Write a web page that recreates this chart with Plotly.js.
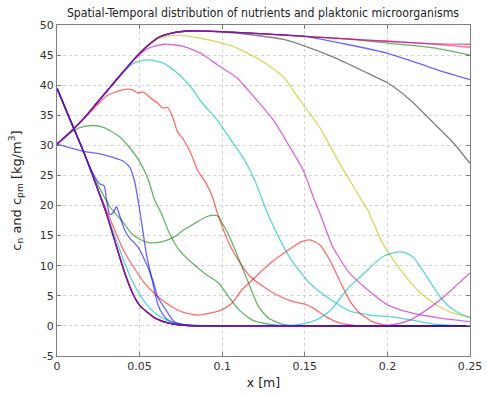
<!DOCTYPE html>
<html>
<head>
<meta charset="utf-8">
<script src="https://cdn.plot.ly/plotly-3.0.1.min.js"></script>
<style>html,body{margin:0;padding:0;background:#fff;}#chart{width:487px;height:397px;}</style>
</head>
<body>
<div id="chart"></div>
<script>
// ---- axis ticks ----
const xTickVals = [0, 0.05, 0.1, 0.15, 0.2, 0.25];
const xTickText = ['0', '0.05', '0.1', '0.15', '0.2', '0.25'];
const yTickVals = [-5, 0, 5, 10, 15, 20, 25, 30, 35, 40, 45, 50];
const yTickText = ['-5', '0', '5', '10', '15', '20', '25', '30', '35', '40', '45', '50'];

// ---- shared rising profile (curves starting at 30) ----
const riseX = [0, 0.008, 0.016, 0.024, 0.032, 0.04, 0.048, 0.055, 0.062, 0.07, 0.08, 0.1, 0.12, 0.15, 0.175, 0.2, 0.225, 0.25];
const riseY = [30.2, 32.2, 34.4, 37.0, 39.6, 42.2, 44.7, 46.6, 48.0, 48.7, 49.0, 48.9, 48.6, 48.1, 47.7, 47.3, 46.9, 46.6];

// ---- shared falling profile (curves starting at 39.5) ----
const fallX = [0, 0.008, 0.016, 0.024, 0.03, 0.036, 0.041, 0.046, 0.05, 0.055, 0.06, 0.067, 0.075, 0.085, 0.25];
const fallY = [39.5, 34.2, 29.0, 23.2, 18.6, 13.2, 8.8, 5.3, 3.4, 2.2, 1.2, 0.5, 0.15, 0, 0];

// ---- curves starting at 30 ----
const aBlueX = [0, 0.008, 0.018, 0.026, 0.034, 0.04, 0.044, 0.047, 0.051, 0.054, 0.058, 0.061, 0.064, 0.067, 0.072, 0.078, 0.09, 0.25];
const aBlueY = [30.2, 29.6, 28.9, 28.6, 28.0, 27.4, 26.4, 24.0, 17.6, 12.1, 7.1, 3.6, 1.9, 1.0, 0.4, 0.15, 0, 0];
const aGreenX = [0, 0.006, 0.011, 0.016, 0.022, 0.028, 0.033, 0.038, 0.044, 0.05, 0.055, 0.059, 0.063, 0.068, 0.074, 0.082, 0.09, 0.098, 0.104, 0.11, 0.118, 0.13, 0.14, 0.25];
const aGreenY = [30.2, 31.6, 32.6, 33.1, 33.3, 33.0, 32.3, 31.4, 29.6, 27.3, 24.5, 21.0, 18.8, 15.4, 12.6, 10.4, 8.6, 7.1, 4.8, 2.7, 1.0, 0.2, 0, 0];
const aRedX = [0.024, 0.03, 0.038, 0.045, 0.049, 0.052, 0.055, 0.058, 0.061, 0.064, 0.067, 0.07, 0.073, 0.076, 0.081, 0.085, 0.09, 0.094, 0.097, 0.1, 0.105, 0.111, 0.117, 0.125, 0.132, 0.142, 0.15, 0.155, 0.163, 0.171, 0.18, 0.19, 0.25];
const aRedY = [36.6, 38.2, 39.1, 39.3, 38.7, 38.9, 38.3, 37.6, 37.0, 36.2, 36.3, 34.7, 32.2, 31.2, 28.7, 25.9, 23.8, 21.5, 18.8, 16.5, 13.2, 10.4, 8.2, 6.5, 5.3, 4.1, 3.6, 3.0, 1.5, 0.5, 0.1, 0, 0];
const aCyanX = [0.04, 0.045, 0.05, 0.056, 0.064, 0.073, 0.081, 0.088, 0.097, 0.105, 0.113, 0.12, 0.127, 0.135, 0.143, 0.153, 0.165, 0.177, 0.19, 0.203, 0.214, 0.228, 0.24, 0.25];
const aCyanY = [42.0, 43.4, 44.0, 44.2, 43.7, 42.0, 39.7, 37.0, 34.2, 31.0, 27.8, 24.0, 19.0, 14.3, 10.5, 7.1, 4.5, 2.5, 1.8, 1.5, 1.0, 0.3, 0.1, 0.05];
const aMagentaX = [0.048, 0.055, 0.065, 0.076, 0.087, 0.097, 0.109, 0.121, 0.131, 0.141, 0.149, 0.155, 0.159, 0.167, 0.177, 0.188, 0.2, 0.214, 0.232, 0.25];
const aMagentaY = [44.6, 46.1, 46.8, 46.5, 45.3, 43.4, 41.2, 37.5, 34.2, 29.7, 25.9, 21.5, 18.8, 13.1, 8.8, 6.0, 3.5, 2.2, 1.3, 0.7];
const aYellowX = [0.055, 0.062, 0.068, 0.078, 0.087, 0.097, 0.107, 0.123, 0.137, 0.147, 0.159, 0.171, 0.177, 0.183, 0.188, 0.197, 0.208, 0.218, 0.228, 0.238, 0.25];
const aYellowY = [46.5, 47.8, 48.2, 48.2, 47.8, 47.2, 46.4, 44.2, 41.4, 37.5, 33.0, 27.0, 24.3, 21.5, 19.3, 13.8, 9.3, 6.0, 3.8, 2.3, 1.5];
const aBlackX = [0.1, 0.12, 0.137, 0.147, 0.167, 0.188, 0.2, 0.214, 0.228, 0.24, 0.25];
const aBlackY = [48.8, 48.3, 47.6, 46.8, 44.7, 42.0, 40.4, 37.5, 33.7, 30.4, 27.0];
const aBlue2X = [0.175, 0.2, 0.218, 0.234, 0.25];
const aBlue2Y = [46.8, 45.3, 43.7, 42.2, 40.9];
const aGreen2X = [0.2, 0.228, 0.25];
const aGreen2Y = [47.0, 46.2, 45.0];
const aRed2X = [0.25];
const aRed2Y = [46.3];
const aMagenta2X = [0.25];
const aMagenta2Y = [46.8];

// ---- curves starting at 39.5 ----
const bBlueX = [0.022, 0.026, 0.0285, 0.030, 0.032, 0.034, 0.036, 0.038, 0.041, 0.044, 0.049, 0.053, 0.058, 0.061, 0.067, 0.071, 0.08, 0.09, 0.25];
const bBlueY = [25.2, 23.6, 23.3, 21.0, 18.5, 18.8, 19.8, 18.3, 15.9, 14.6, 13.1, 11.0, 7.6, 4.8, 2.2, 0.7, 0.1, 0, 0];
const bGreenX = [0.022, 0.026, 0.032, 0.04, 0.045, 0.05, 0.056, 0.064, 0.071, 0.076, 0.082, 0.09, 0.095, 0.098, 0.1, 0.103, 0.106, 0.112, 0.116, 0.122, 0.128, 0.136, 0.145, 0.25];
const bGreenY = [25.0, 22.8, 19.8, 17.2, 15.4, 14.4, 13.8, 14.0, 14.8, 15.8, 16.8, 18.1, 18.4, 18.1, 17.1, 15.6, 13.8, 9.8, 7.1, 3.2, 1.3, 0.3, 0, 0];
const bRedX = [0.03, 0.036, 0.041, 0.047, 0.053, 0.059, 0.065, 0.07, 0.076, 0.085, 0.094, 0.1, 0.106, 0.112, 0.12, 0.13, 0.14, 0.148, 0.153, 0.159, 0.165, 0.171, 0.177, 0.183, 0.191, 0.2, 0.25];
const bRedY = [19.2, 15.2, 12.2, 9.5, 7.1, 5.4, 4.0, 3.1, 2.3, 1.8, 2.2, 2.7, 3.8, 6.0, 8.1, 10.6, 12.6, 14.0, 14.3, 13.5, 11.0, 7.6, 4.3, 2.2, 0.7, 0.1, 0];
const bCyanX = [0.036, 0.041, 0.046, 0.051, 0.056, 0.061, 0.066, 0.071, 0.08, 0.09, 0.14, 0.15, 0.157, 0.163, 0.167, 0.172, 0.177, 0.183, 0.188, 0.193, 0.197, 0.203, 0.208, 0.212, 0.216, 0.22, 0.224, 0.228, 0.232, 0.236, 0.24, 0.245, 0.25];
const bCyanY = [14.2, 10.4, 7.2, 4.8, 3.0, 1.8, 1.0, 0.5, 0.15, 0.05, 0.05, 0.4, 1.0, 2.0, 3.0, 4.8, 6.5, 8.0, 9.3, 10.6, 11.5, 12.1, 12.3, 12.0, 11.3, 9.8, 8.1, 6.4, 4.8, 3.6, 2.7, 1.9, 1.3];
const bMagentaX = [0.195, 0.2, 0.207, 0.214, 0.219, 0.224, 0.229, 0.234, 0.242, 0.25];
const bMagentaY = [0, 0.1, 0.4, 1.0, 1.8, 2.7, 3.7, 4.8, 6.8, 8.8];
const bEmptyX = [];
const bEmptyY = [];

// ---- colours ----
const cBlue = 'rgba(0,0,255,0.6)';
const cGreen = 'rgba(0,128,0,0.6)';
const cRed = 'rgba(255,0,0,0.58)';
const cCyan = 'rgba(0,191,191,0.65)';
const cMagenta = 'rgba(191,0,191,0.6)';
const cYellow = 'rgba(191,191,0,0.62)';
const cBlack = 'rgba(0,0,0,0.5)';
const cFaint = (c) => c.replace(/[\d.]+\)$/, '0.3)');

// join shared profile (points left of the curve's own first x) with the curve's own points
function join(baseX, baseY, ownX, ownY) {
  const x = [], y = [];
  const start = ownX.length ? ownX[0] : Infinity;
  for (let i = 0; i < baseX.length; i++) {
    if (baseX[i] < start) { x.push(baseX[i]); y.push(baseY[i]); }
  }
  return { x: x.concat(ownX), y: y.concat(ownY) };
}

// drawing order: later entries are drawn on top
const curves = [
  [aBlueX, aBlueY, null, cBlue],
  [aGreenX, aGreenY, null, cGreen],
  [aBlackX, aBlackY, 'rise', cBlack],
  [aYellowX, aYellowY, 'rise', cYellow],
  [aRedX, aRedY, 'rise', cRed],
  [aCyanX, aCyanY, 'rise', cCyan],
  [aGreen2X, aGreen2Y, 'rise', cGreen],
  [aRed2X, aRed2Y, 'rise', cRed],
  [aMagentaX, aMagentaY, 'rise', cMagenta],
  [aBlue2X, aBlue2Y, 'rise', cBlue],
  [aMagenta2X, aMagenta2Y, 'rise', cMagenta],
  [bEmptyX, bEmptyY, 'fall', cFaint(cYellow)],
  [bEmptyX, bEmptyY, 'fall', cFaint(cBlack)],
  [bEmptyX, bEmptyY, 'fall', cGreen],
  [bEmptyX, bEmptyY, 'fall', cRed],
  [bGreenX, bGreenY, 'fall', cGreen],
  [bRedX, bRedY, 'fall', cRed],
  [bCyanX, bCyanY, 'fall', cCyan],
  [bEmptyX, bEmptyY, 'fall', cBlue],
  [bBlueX, bBlueY, 'fall', cBlue],
  [bMagentaX, bMagentaY, 'fall', cMagenta]
];

const traces = curves.map(([ox, oy, base, col]) => {
  let d = { x: ox, y: oy };
  if (base === 'rise') d = join(riseX, riseY, ox, oy);
  if (base === 'fall') d = join(fallX, fallY, ox, oy);
  return {
    type: 'scatter', mode: 'lines', x: d.x, y: d.y,
    line: { color: col, width: 1.3, shape: 'spline', smoothing: 0.6 },
    hoverinfo: 'skip', showlegend: false
  };
});

const font = { family: 'DejaVu Sans, Verdana, sans-serif', size: 11, color: '#333' };
const titleFont = { family: 'DejaVu Sans, Verdana, sans-serif', size: 12.5, color: '#222' };

const axisCommon = {
  showline: true, mirror: 'ticks', linecolor: '#7f7f7f', linewidth: 1,
  ticks: 'inside', ticklen: 4, tickcolor: '#7f7f7f', tickwidth: 1,
  showgrid: true, gridcolor: '#d2d2d2', griddash: 'dot', gridwidth: 1,
  zeroline: false, tickfont: font
};

const layout = {
  width: 487, height: 397,
  margin: { l: 57, r: 17, t: 25, b: 41, pad: 0 },
  paper_bgcolor: '#fff', plot_bgcolor: '#fff',
  font: font,
  title: {
    text: 'Spatial-Temporal distribution of nutrients and plaktonic microorganisms',
    font: { family: 'DejaVu Sans Condensed, DejaVu Sans, sans-serif', size: 12.2, color: '#222' },
    x: 0.54, xanchor: 'center', y: 0.967, yanchor: 'middle', yref: 'container'
  },
  xaxis: Object.assign({}, axisCommon, {
    range: [0, 0.25], tickvals: xTickVals, ticktext: xTickText,
    title: { text: 'x [m]', font: titleFont, standoff: 6 }
  }),
  yaxis: Object.assign({}, axisCommon, {
    range: [-5, 50], tickvals: yTickVals, ticktext: yTickText,
    title: { text: 'c<sub>n</sub> and c<sub>pm</sub> [kg/m<sup>3</sup>]', font: { family: 'DejaVu Sans, Verdana, sans-serif', size: 13, color: '#222' }, standoff: 15 }
  })
};

Plotly.newPlot('chart', traces, layout, { staticPlot: true, displayModeBar: false });
</script>
</body>
</html>
